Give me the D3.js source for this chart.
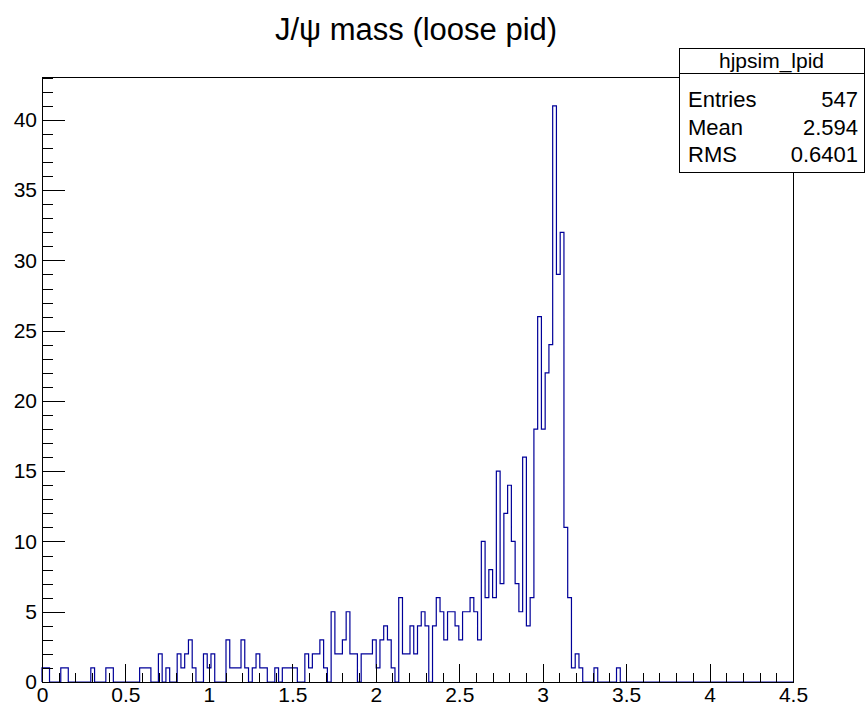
<!DOCTYPE html>
<html>
<head>
<meta charset="utf-8">
<script src="https://cdn.jsdelivr.net/npm/d3@7"></script>
<style>
  body { margin: 0; background: #ffffff; }
  svg { display: block; }
  text { font-family: "Liberation Sans", Arial, sans-serif; fill: #000; }
</style>
</head>
<body>
<div id="chart"></div>
<script>
// Histogram binning (hjpsim_lpid): 200 bins from 0 to 4.5
const xMin = 0;
const xMax = 4.5;
const nBins = 200;

// Bin contents
const counts = [
  1, 1, 0, 0, 0, 1, 1, 0, 0, 0,
  0, 0, 0, 1, 0, 0, 0, 1, 1, 0,
  0, 0, 0, 0, 0, 0, 1, 1, 1, 0,
  0, 2, 0, 1, 0, 0, 2, 1, 2, 3,
  1, 0, 0, 2, 1, 2, 0, 0, 0, 3,
  1, 1, 1, 3, 1, 0, 1, 2, 1, 1,
  0, 0, 1, 0, 1, 1, 1, 1, 0, 0,
  2, 1, 2, 2, 3, 1, 0, 5, 2, 2,
  3, 5, 2, 2, 0, 2, 2, 2, 3, 1,
  3, 4, 3, 1, 0, 6, 2, 2, 4, 2,
  4, 5, 4, 0, 4, 6, 5, 3, 5, 5,
  4, 3, 5, 5, 6, 5, 3, 10, 6, 8,
  6, 15, 7, 12, 14, 10, 7, 5, 16, 4,
  6, 18, 26, 18, 22, 24, 41, 29, 32, 11,
  6, 1, 2, 1, 0, 0, 0, 1, 0, 0,
  0, 0, 0, 1, 0, 0, 0, 0, 0, 0,
  0, 0, 0, 0, 0, 0, 0, 0, 0, 0,
  0, 0, 0, 0, 0, 0, 0, 0, 0, 0,
  0, 0, 0, 0, 0, 0, 0, 0, 0, 0,
  0, 0, 0, 0, 0, 0, 0, 0, 0, 0,
];

// Axis ticks
const xTicks = [0, 0.5, 1, 1.5, 2, 2.5, 3, 3.5, 4, 4.5];
const xTickLabels = ["0", "0.5", "1", "1.5", "2", "2.5", "3", "3.5", "4", "4.5"];
const yTicks = [0, 5, 10, 15, 20, 25, 30, 35, 40];

// Title and stats box
const title = "J/\u03c8 mass (loose pid)";
const statsName = "hjpsim_lpid";
const statNames = ["Entries", "Mean", "RMS"];
const statValues = ["547", "2.594", "0.6401"];

// Layout
const width = 865;
const height = 708;
const frame = { left: 42, right: 793, top: 77, bottom: 682 };
const histColor = "#000099";

const svg = d3.select("#chart")
    .append("svg")
    .attr("width", width)
    .attr("height", height);

svg.append("rect")
    .attr("width", width)
    .attr("height", height)
    .attr("fill", "#ffffff");

const x = d3.scaleLinear()
    .domain([xMin, xMax])
    .range([frame.left, frame.right]);

const yMax = d3.max(counts) * 1.05;
const y = d3.scaleLinear()
    .domain([0, yMax])
    .range([frame.bottom, frame.top]);

// Histogram outline
const binWidth = (xMax - xMin) / nBins;
const points = [[xMin, 0]];
counts.forEach((c, i) => {
    points.push([xMin + i * binWidth, c]);
    points.push([xMin + (i + 1) * binWidth, c]);
});
points.push([xMax, 0]);

svg.append("path")
    .datum(points)
    .attr("fill", "none")
    .attr("stroke", histColor)
    .attr("stroke-width", 1.2)
    .attr("d", d3.line().x(d => x(d[0])).y(d => y(d[1])));

// Minor ticks
const yMinor = d3.range(0, Math.floor(yMax) + 1, 1);
const xMinor = d3.range(0, 46, 1).map(d => d / 10);

svg.append("g")
    .attr("transform", `translate(${frame.left},0)`)
    .call(d3.axisLeft(y).tickValues(yMinor).tickSize(-11).tickFormat(""))
    .call(g => g.select(".domain").remove());

svg.append("g")
    .attr("transform", `translate(0,${frame.bottom})`)
    .call(d3.axisBottom(x).tickValues(xMinor).tickSize(-9).tickFormat(""))
    .call(g => g.select(".domain").remove());

// Major ticks with labels
const yAxis = svg.append("g")
    .attr("transform", `translate(${frame.left},0)`)
    .call(d3.axisLeft(y).tickValues(yTicks).tickSize(-23).tickPadding(5).tickFormat(d3.format("d")))
    .call(g => g.select(".domain").remove());

const xAxis = svg.append("g")
    .attr("transform", `translate(0,${frame.bottom})`)
    .call(d3.axisBottom(x).tickValues(xTicks).tickSize(-18).tickPadding(5)
        .tickFormat((d, i) => xTickLabels[i]))
    .call(g => g.select(".domain").remove());

svg.selectAll(".tick line").attr("stroke", "#000").attr("shape-rendering", "crispEdges");
[yAxis, xAxis].forEach(g => g.selectAll("text")
    .attr("font-size", 21)
    .attr("font-family", "'Liberation Sans', Arial, sans-serif")
    .attr("fill", "#000"));

// Frame
svg.append("rect")
    .attr("x", frame.left)
    .attr("y", frame.top)
    .attr("width", frame.right - frame.left)
    .attr("height", frame.bottom - frame.top)
    .attr("fill", "none")
    .attr("stroke", "#000")
    .attr("shape-rendering", "crispEdges");

// Title
svg.append("text")
    .attr("x", 416)
    .attr("y", 40)
    .attr("text-anchor", "middle")
    .attr("font-size", 31)
    .text(title);

// Stats box
const box = { x: 679, y: 48, w: 185, h: 124, header: 25, row: 27.5 };
const stats = svg.append("g");

stats.append("rect")
    .attr("x", box.x)
    .attr("y", box.y)
    .attr("width", box.w)
    .attr("height", box.h)
    .attr("fill", "#ffffff")
    .attr("stroke", "#000")
    .attr("shape-rendering", "crispEdges");

stats.append("line")
    .attr("x1", box.x)
    .attr("x2", box.x + box.w)
    .attr("y1", box.y + box.header)
    .attr("y2", box.y + box.header)
    .attr("stroke", "#000")
    .attr("shape-rendering", "crispEdges");

stats.append("text")
    .attr("x", box.x + box.w / 2)
    .attr("y", box.y + 20)
    .attr("text-anchor", "middle")
    .attr("font-size", 21)
    .text(statsName);

statNames.forEach((name, i) => {
    const ty = box.y + box.header + 34 + i * box.row;
    stats.append("text")
        .attr("x", box.x + 9)
        .attr("y", ty)
        .attr("font-size", 22)
        .text(name);
    stats.append("text")
        .attr("x", box.x + box.w - 6)
        .attr("y", ty)
        .attr("text-anchor", "end")
        .attr("font-size", 22)
        .text(statValues[i]);
});
</script>
</body>
</html>
